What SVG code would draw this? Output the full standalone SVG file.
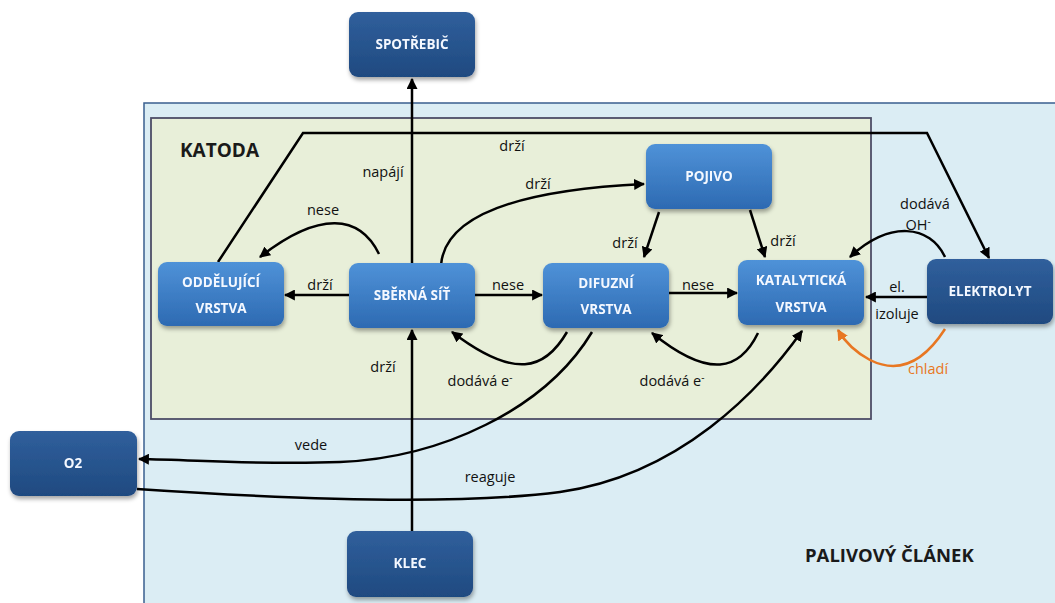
<svg xmlns="http://www.w3.org/2000/svg" width="1055" height="603" viewBox="0 0 1055 603">
<style>
.n{stroke:none}
.mid{fill:url(#gMid)}
.dark{fill:url(#gDark)}
.nt{font-family:"Open Sans","Liberation Sans",Arial,sans-serif;font-size:13.5px;font-weight:bold;fill:#f4f8ff;text-anchor:middle}
.lb{font-family:"Open Sans","Liberation Sans",sans-serif;font-size:14.5px;fill:#111111;text-anchor:middle}
.c{fill:none;stroke:#000;stroke-width:2.5}
.t{font-family:"Open Sans","Liberation Sans",sans-serif;font-weight:bold;fill:#1a1a1a}
</style>
<defs>
<linearGradient id="gMid" x1="0" y1="0" x2="0" y2="1">
<stop offset="0" stop-color="#4f92d8"/><stop offset="1" stop-color="#2d6ab2"/>
</linearGradient>
<linearGradient id="gDark" x1="0" y1="0" x2="0" y2="1">
<stop offset="0" stop-color="#305f9c"/><stop offset="1" stop-color="#1f4a80"/>
</linearGradient>
<filter id="sh" x="-10%" y="-10%" width="130%" height="140%">
<feDropShadow dx="1" dy="3" stdDeviation="2" flood-color="#000" flood-opacity="0.35"/>
</filter>
<marker id="ar" viewBox="0 0 10 10" refX="9" refY="5" markerWidth="11" markerHeight="11" markerUnits="userSpaceOnUse" orient="auto">
<path d="M0,0 L10,5 L0,10 z" fill="#000"/>
</marker>
<marker id="aro" viewBox="0 0 10 10" refX="9" refY="5" markerWidth="11" markerHeight="11" markerUnits="userSpaceOnUse" orient="auto">
<path d="M0,0 L10,5 L0,10 z" fill="#e87722"/>
</marker>
</defs>
<rect width="1055" height="603" fill="#ffffff"/>
<g id="palivovy-clanek">
<rect x="144" y="103" width="920" height="510" fill="#dbedf4" stroke="#3a5f8f" stroke-width="1.5"/>
<text class="t" x="805" y="562" font-size="18.5">PALIVOVÝ ČLÁNEK</text>
</g>
<g id="katoda">
<rect x="151" y="118" width="720" height="301" fill="#e8efd9" stroke="#4d4d66" stroke-width="1.8"/>
<text class="t" x="180" y="157" font-size="19">KATODA</text>
</g>
<g id="connectors">
<line class="c" x1="412" y1="263" x2="412" y2="79" marker-end="url(#ar)"/>
<line class="c" x1="412" y1="531" x2="412" y2="330" marker-end="url(#ar)"/>
<line class="c" x1="349" y1="295" x2="285" y2="295" marker-end="url(#ar)"/>
<line class="c" x1="475" y1="295" x2="542" y2="295" marker-end="url(#ar)"/>
<line class="c" x1="669" y1="293" x2="737" y2="293" marker-end="url(#ar)"/>
<line class="c" x1="927" y1="297" x2="866" y2="297" marker-end="url(#ar)"/>
<path class="c" d="M379,254 C360,215 320,210 260,257" marker-end="url(#ar)"/>
<path class="c" d="M218,262 L303,133 L927,133 L989,258" marker-end="url(#ar)"/>
<path class="c" d="M441,265 C445,215 520,190 644,184" marker-end="url(#ar)"/>
<path class="c" d="M659,212 L644,257" marker-end="url(#ar)"/>
<path class="c" d="M750,210 L765,257" marker-end="url(#ar)"/>
<path class="c" d="M945,257 C930,225 890,220 850,257" marker-end="url(#ar)"/>
<path d="M945,329 C925,360 900,375 870,360 C855,352 845,342 838,330" fill="none" stroke="#e87722" stroke-width="2.5" marker-end="url(#aro)"/>
<path class="c" d="M567,332 C545,370 515,380 452,332" marker-end="url(#ar)"/>
<path class="c" d="M758,333 C740,370 710,380 652,333" marker-end="url(#ar)"/>
<path class="c" d="M592,332 C545,410 440,458 340,462 C260,465 200,460 139,459" marker-end="url(#ar)"/>
<path class="c" d="M137,489 C300,500 460,505 560,492 C680,475 760,390 802,331" marker-end="url(#ar)"/>
<text class="lb" x="383" y="177">napájí</text>
<text class="lb" x="383" y="372">drží</text>
<text class="lb" x="320" y="290">drží</text>
<text class="lb" x="508" y="290">nese</text>
<text class="lb" x="698" y="290">nese</text>
<text class="lb" x="897" y="292">el.</text>
<text class="lb" x="897" y="319">izoluje</text>
<text class="lb" x="323" y="215">nese</text>
<text class="lb" x="512" y="151">drží</text>
<text class="lb" x="538" y="189">drží</text>
<text class="lb" x="625" y="248">drží</text>
<text class="lb" x="783" y="246">drží</text>
<text class="lb" x="925" y="209">dodává</text>
<text class="lb" x="918" y="230">OH<tspan font-size="10" dy="-5">-</tspan></text>
<text class="lb" x="928" y="374" style="fill:#e87722">chladí</text>
<text class="lb" x="480" y="386">dodává e<tspan font-size="10" dy="-5">-</tspan></text>
<text class="lb" x="672" y="386">dodává e<tspan font-size="10" dy="-5">-</tspan></text>
<text class="lb" x="311" y="450">vede</text>
<text class="lb" x="490" y="482">reaguje</text>
</g>
<g id="spotrebic" filter="url(#sh)">
<rect class="n dark" x="349" y="12" width="126" height="65" rx="9"/>
<text class="nt" x="412" y="49">SPOTŘEBIČ</text>
</g>
<g id="oddelujici-vrstva" filter="url(#sh)">
<rect class="n mid" x="158" y="262" width="126" height="64" rx="9"/>
<text class="nt" x="221" y="287">ODDĚLUJÍCÍ</text>
<text class="nt" x="221" y="313">VRSTVA</text>
</g>
<g id="sberna-sit" filter="url(#sh)">
<rect class="n mid" x="349" y="263" width="126" height="65" rx="9"/>
<text class="nt" x="412" y="300">SBĚRNÁ SÍŤ</text>
</g>
<g id="difuzni-vrstva" filter="url(#sh)">
<rect class="n mid" x="543" y="263" width="126" height="65" rx="9"/>
<text class="nt" x="606" y="288">DIFUZNÍ</text>
<text class="nt" x="606" y="314">VRSTVA</text>
</g>
<g id="katalyticka-vrstva" filter="url(#sh)">
<rect class="n mid" x="738" y="260" width="126" height="65" rx="9"/>
<text class="nt" x="801" y="285">KATALYTICKÁ</text>
<text class="nt" x="801" y="312">VRSTVA</text>
</g>
<g id="pojivo" filter="url(#sh)">
<rect class="n mid" x="646" y="144" width="126" height="65" rx="9"/>
<text class="nt" x="709" y="181">POJIVO</text>
</g>
<g id="elektrolyt" filter="url(#sh)">
<rect class="n dark" x="927" y="259" width="126" height="65" rx="9"/>
<text class="nt" x="990" y="296">ELEKTROLYT</text>
</g>
<g id="o2" filter="url(#sh)">
<rect class="n dark" x="10" y="431" width="127" height="65" rx="9"/>
<text class="nt" x="73" y="468">O2</text>
</g>
<g id="klec" filter="url(#sh)">
<rect class="n dark" x="347" y="531" width="126" height="66" rx="9"/>
<text class="nt" x="410" y="568">KLEC</text>
</g>
</svg>
